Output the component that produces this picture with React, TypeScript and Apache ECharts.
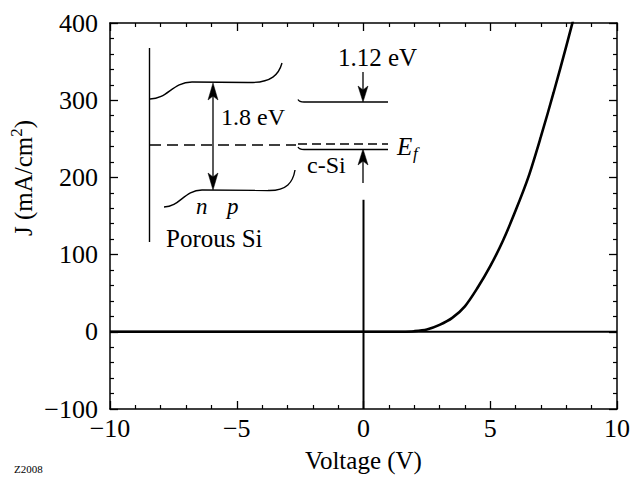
import React, { useEffect, useRef } from "react";
import * as echarts from "echarts";

// J–V curve (voltage in V, current density in mA/cm²)
const voltage = [-10, -6, -2, 0, 1, 1.5, 2, 2.5, 3, 3.5, 4, 4.5, 5, 5.5, 6, 6.5, 7, 7.5, 8, 8.4];
const current = [0, 0, 0, 0, 0, 0.1, 0.8, 3, 9, 18, 33, 57, 85, 118, 157, 200, 253, 310, 370, 420];

// reference zero line and vertical line at V = 0
const zeroLineV = [-10, 10];
const zeroLineJ = [0, 0];
const vertLineV = [0, 0];
const vertLineJ = [-100, 171];

const xTicks = [-10, -5, 0, 5, 10];
const yTicks = [-100, 0, 100, 200, 300, 400];

const FONT = "'Liberation Serif', 'Times New Roman', Times, serif";

function pairs(xs: number[], ys: number[]) {
  return xs.map((x, i) => [x, ys[i]]);
}

function minus(v: number) {
  return String(v).replace("-", "\u2212");
}

function arrowHead(x: number, tipY: number, dir: 1 | -1, len = 17, half = 5) {
  const baseY = tipY - dir * len;
  const notchY = tipY - dir * (len - 4);
  return {
    type: "polygon",
    shape: {
      points: [
        [x, tipY],
        [x - half, baseY],
        [x, notchY],
        [x + half, baseY],
      ],
    },
    style: { fill: "#000", stroke: "#000", lineWidth: 0.5 },
  };
}

function line(x1: number, y1: number, x2: number, y2: number, w = 1.4, dash?: number[]) {
  return {
    type: "line",
    shape: { x1, y1, x2, y2 },
    style: { stroke: "#000", lineWidth: w, lineDash: dash },
  };
}

function bez(x1: number, y1: number, cpx1: number, cpy1: number, cpx2: number, cpy2: number, x2: number, y2: number, w = 1.4) {
  return {
    type: "bezierCurve",
    shape: { x1, y1, cpx1, cpy1, cpx2, cpy2, x2, y2 },
    style: { stroke: "#000", lineWidth: w, fill: "none" },
  };
}

function txt(text: string, x: number, y: number, size: number, italic = false, align = "left") {
  return {
    type: "text",
    x,
    y,
    style: {
      text,
      fill: "#000",
      fontFamily: FONT,
      fontSize: size,
      fontStyle: italic ? "italic" : "normal",
      textAlign: align,
      textVerticalAlign: "middle",
      align,
      verticalAlign: "middle",
    },
  };
}

export default function App() {
  const ref = useRef<HTMLDivElement>(null);

  useEffect(() => {
    if (!ref.current) return;
    const chart = echarts.init(ref.current, undefined, { renderer: "svg" });

    const axisCommon = {
      axisLine: { show: true, onZero: false, lineStyle: { color: "#000", width: 1.5 } },
      axisTick: { show: true, inside: true, length: 8, lineStyle: { color: "#000", width: 1.3 } },
      minorTick: { show: true, splitNumber: 5, length: 4, lineStyle: { color: "#000", width: 1.2 } },
      splitLine: { show: false },
      minorSplitLine: { show: false },
    };

    const option: any = {
      animation: false,
      backgroundColor: "#fff",
      textStyle: { fontFamily: FONT },
      grid: { left: 110, right: 15, top: 23, bottom: 68, outerBoundsMode: "none", containLabel: false },
      xAxis: [
        {
          ...axisCommon,
          type: "value",
          position: "bottom",
          min: xTicks[0],
          max: xTicks[xTicks.length - 1],
          interval: 5,
          name: "Voltage (V)",
          nameLocation: "middle",
          nameGap: 39,
          nameTextStyle: { fontFamily: FONT, fontSize: 25, color: "#000" },
          axisLabel: {
            margin: 6,
            fontFamily: FONT,
            fontSize: 26,
            color: "#000",
            formatter: (v: number) => minus(v),
          },
        },
        {
          ...axisCommon,
          type: "value",
          position: "top",
          min: xTicks[0],
          max: xTicks[xTicks.length - 1],
          interval: 5,
          axisLabel: { show: false },
        },
      ],
      yAxis: [
        {
          ...axisCommon,
          type: "value",
          position: "left",
          min: yTicks[0],
          max: yTicks[yTicks.length - 1],
          interval: 100,
          axisLabel: {
            margin: 12,
            fontFamily: FONT,
            fontSize: 26,
            color: "#000",
            formatter: (v: number) => minus(v),
          },
        },
        {
          ...axisCommon,
          type: "value",
          position: "right",
          min: yTicks[0],
          max: yTicks[yTicks.length - 1],
          interval: 100,
          axisLabel: { show: false },
        },
      ],
      series: [
        {
          type: "line",
          data: pairs(zeroLineV, zeroLineJ),
          showSymbol: false,
          symbol: "none",
          lineStyle: { color: "#000", width: 2 },
          silent: true,
        },
        {
          type: "line",
          data: pairs(vertLineV, vertLineJ),
          showSymbol: false,
          symbol: "none",
          lineStyle: { color: "#000", width: 2 },
          silent: true,
        },
        {
          type: "line",
          data: pairs(voltage, current),
          showSymbol: false,
          symbol: "none",
          smooth: 0.3,
          clip: true,
          lineStyle: { color: "#000", width: 2.6 },
          silent: true,
        },
      ],
      graphic: [
        // y-axis title with superscript
        {
          type: "text",
          x: 23,
          y: 178,
          rotation: Math.PI / 2,
          style: {
            text: "{a|J (mA/cm}{s|2}{a|)}",
            fill: "#000",
            fontFamily: FONT,
            textAlign: "center",
            textVerticalAlign: "middle",
            align: "center",
            verticalAlign: "middle",
            rich: {
              a: { fontFamily: FONT, fontSize: 25, lineHeight: 30, fill: "#000", color: "#000" },
              s: { fontFamily: FONT, fontSize: 17, lineHeight: 30, verticalAlign: "top", padding: [0, 0, 10, 0], fill: "#000", color: "#000" },
            },
          },
        },
        // Porous Si band diagram
        line(149.5, 48, 149.5, 242, 1.4),
        bez(150, 99, 168, 99, 172, 82, 192, 82),
        line(192, 82, 248, 82.5),
        bez(248, 82.5, 272, 83, 279, 74, 282, 63),
        bez(164, 207, 180, 207, 184, 190, 202, 190),
        line(202, 190, 268, 190.5),
        bez(268, 190.5, 287, 191, 293, 182, 295, 170),
        line(150, 145, 296, 145, 1.4, [11, 6]),
        // double arrow 1.8 eV
        line(213, 95, 213, 178, 1.3),
        arrowHead(213, 83, -1),
        arrowHead(213, 190, 1),
        // c-Si bands
        bez(298, 99.5, 299, 101.5, 301, 102, 304, 102),
        line(304, 102, 388, 102),
        line(298, 144, 388, 144, 1.3, [9, 5]),
        bez(298, 147, 299, 149, 301, 149.5, 304, 149.5),
        line(304, 149.5, 388, 149.5),
        // 1.12 eV arrow
        line(363, 72, 363, 92, 1.3),
        arrowHead(363, 102, 1, 16, 5),
        // c-Si arrow
        line(363, 160, 363, 183, 1.3),
        arrowHead(363, 149, -1, 16, 5),
        // texts
        txt("1.12 eV", 338, 57, 25),
        txt("1.8 eV", 221, 117, 24),
        txt("c-Si", 307, 165, 24),
        txt("E", 397, 146, 25, true),
        txt("f", 413, 153, 17, true),
        txt("n", 196, 206, 23, true),
        txt("p", 227, 206, 23, true),
        txt("Porous Si", 166, 238, 25),
        txt("Z2008", 14, 469, 11),
      ],
    };

    chart.setOption(option);
    return () => chart.dispose();
  }, []);

  return (
    <div
      ref={ref}
      style={{ position: "fixed", left: 0, top: 0, width: 632, height: 477, background: "#fff" }}
    />
  );
}
